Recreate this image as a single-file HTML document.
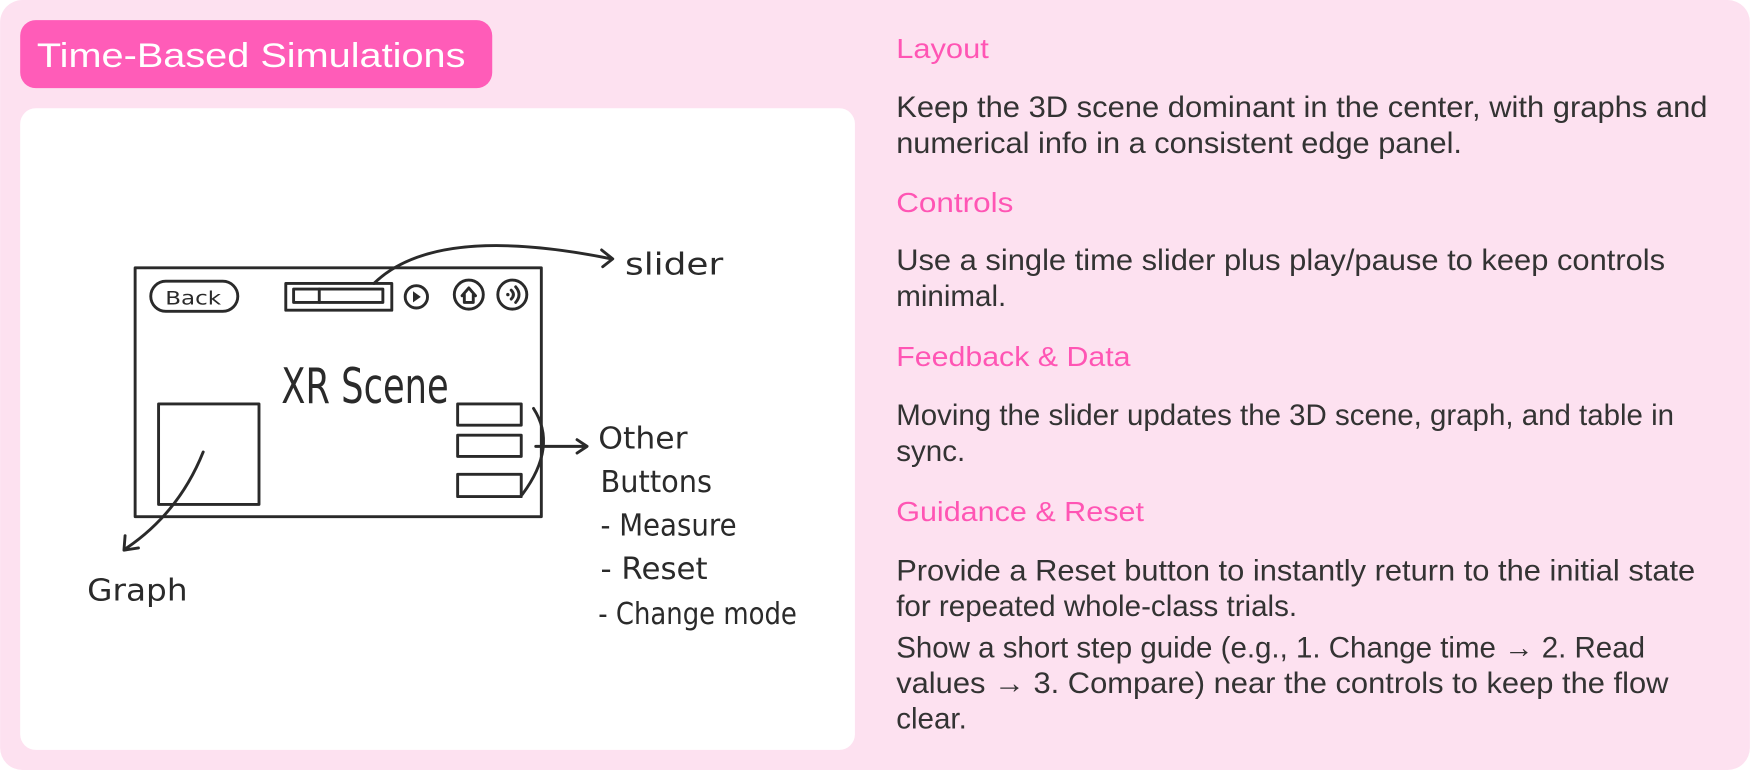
<!DOCTYPE html>
<html><head><meta charset="utf-8"><style>
html,body{margin:0;padding:0;background:#fff;}
svg{display:block;}
.b{font-family:"Liberation Sans",sans-serif;font-size:26.5px;fill:#333;}
.h{font-family:"Liberation Sans",sans-serif;font-size:25px;fill:#ff55b4;}
.s{font-family:"DejaVu Sans","Liberation Sans",sans-serif;fill:#2a2a2a;}
.k{fill:none;stroke:#2a2a2a;stroke-width:2.6;stroke-linecap:round;stroke-linejoin:round;}
</style></head><body>
<svg width="1750" height="770" viewBox="0 0 1568 690" xmlns="http://www.w3.org/2000/svg">
<rect x="0" y="0" width="1568" height="690" rx="20" fill="#fde1f0"/>
<rect x="18" y="18" width="423" height="61" rx="14" fill="#ff5cb8"/>
<text x="33" y="60" font-family="Liberation Sans, sans-serif" font-size="31" fill="#fff" textLength="384" lengthAdjust="spacingAndGlyphs">Time-Based Simulations</text>
<rect x="18" y="97" width="748" height="575" rx="14" fill="#fff"/>

<!-- sketch -->
<rect class="k" x="121" y="240" width="364" height="223" stroke-width="3"/>
<rect class="k" x="135" y="252" width="78" height="27" rx="13.5"/>
<text class="s" x="148" y="273" font-size="17" textLength="50" lengthAdjust="spacingAndGlyphs">Back</text>
<rect class="k" x="256" y="254" width="95" height="24"/>
<rect class="k" x="263" y="259" width="80" height="12"/>
<line class="k" x1="286" y1="259" x2="286" y2="271" stroke-width="3"/>
<circle class="k" cx="373" cy="266" r="10"/>
<path d="M370 261 L377 266 L370 271Z" fill="#2a2a2a"/>
<circle class="k" cx="420" cy="264" r="13"/>
<path class="k" d="M414 265 L420 258 L426 265 M416 264 V271 H424 V264" stroke-width="1.8"/>
<circle class="k" cx="459" cy="264" r="13"/>
<path class="k" d="M458 260 q4 4 0 8 M462 257 q6 7 0 14" stroke-width="1.8"/>
<circle cx="455" cy="264" r="1.5" fill="#2a2a2a"/>
<text class="s" x="252" y="361" font-size="44" textLength="150" lengthAdjust="spacingAndGlyphs">XR Scene</text>
<rect class="k" x="142" y="362" width="90" height="90"/>
<rect class="k" x="410" y="362" width="57" height="19"/>
<rect class="k" x="410" y="390" width="57" height="19"/>
<rect class="k" x="410" y="425" width="57" height="20"/>
<path class="k" d="M478 366 Q500 400 468 443"/>
<path class="k" d="M480 400 H525 M517 394 L526 400 L517 406"/>
<path class="k" d="M335 254 Q390 200 548 232 M539 224 L549 232 L540 239"/>
<path class="k" d="M182 405 Q160 460 112 492 M112 480 L111 493 L124 491"/>
<g class="s" font-size="27">
<text x="560" y="246" textLength="88" lengthAdjust="spacingAndGlyphs">slider</text>
<text x="536" y="402" textLength="80" lengthAdjust="spacingAndGlyphs">Other</text>
<text x="538" y="441" textLength="100" lengthAdjust="spacingAndGlyphs">Buttons</text>
<text x="538" y="480" textLength="122" lengthAdjust="spacingAndGlyphs">- Measure</text>
<text x="538" y="519" textLength="96" lengthAdjust="spacingAndGlyphs">- Reset</text>
<text x="536" y="559" textLength="178" lengthAdjust="spacingAndGlyphs">- Change mode</text>
<text x="78" y="538" textLength="90" lengthAdjust="spacingAndGlyphs">Graph</text>
</g>

<!-- right text -->
<text class="h" x="803" y="52" textLength="83" lengthAdjust="spacingAndGlyphs">Layout</text>
<text class="b" x="803" y="105" textLength="727" lengthAdjust="spacingAndGlyphs">Keep the 3D scene dominant in the center, with graphs and</text>
<text class="b" x="803" y="137" textLength="507" lengthAdjust="spacingAndGlyphs">numerical info in a consistent edge panel.</text>
<text class="h" x="803" y="190" textLength="105" lengthAdjust="spacingAndGlyphs">Controls</text>
<text class="b" x="803" y="242" textLength="689" lengthAdjust="spacingAndGlyphs">Use a single time slider plus play/pause to keep controls</text>
<text class="b" x="803" y="274">minimal.</text>
<text class="h" x="803" y="328" textLength="210" lengthAdjust="spacingAndGlyphs">Feedback &amp; Data</text>
<text class="b" x="803" y="381" textLength="697" lengthAdjust="spacingAndGlyphs">Moving the slider updates the 3D scene, graph, and table in</text>
<text class="b" x="803" y="413">sync.</text>
<text class="h" x="803" y="467" textLength="222" lengthAdjust="spacingAndGlyphs">Guidance &amp; Reset</text>
<text class="b" x="803" y="520" textLength="716" lengthAdjust="spacingAndGlyphs">Provide a Reset button to instantly return to the initial state</text>
<text class="b" x="803" y="552">for repeated whole-class trials.</text>
<text class="b" x="803" y="589" textLength="671" lengthAdjust="spacingAndGlyphs">Show a short step guide (e.g., 1. Change time → 2. Read</text>
<text class="b" x="803" y="621" textLength="692" lengthAdjust="spacingAndGlyphs">values → 3. Compare) near the controls to keep the flow</text>
<text class="b" x="803" y="653">clear.</text>
</svg>
</body></html>
